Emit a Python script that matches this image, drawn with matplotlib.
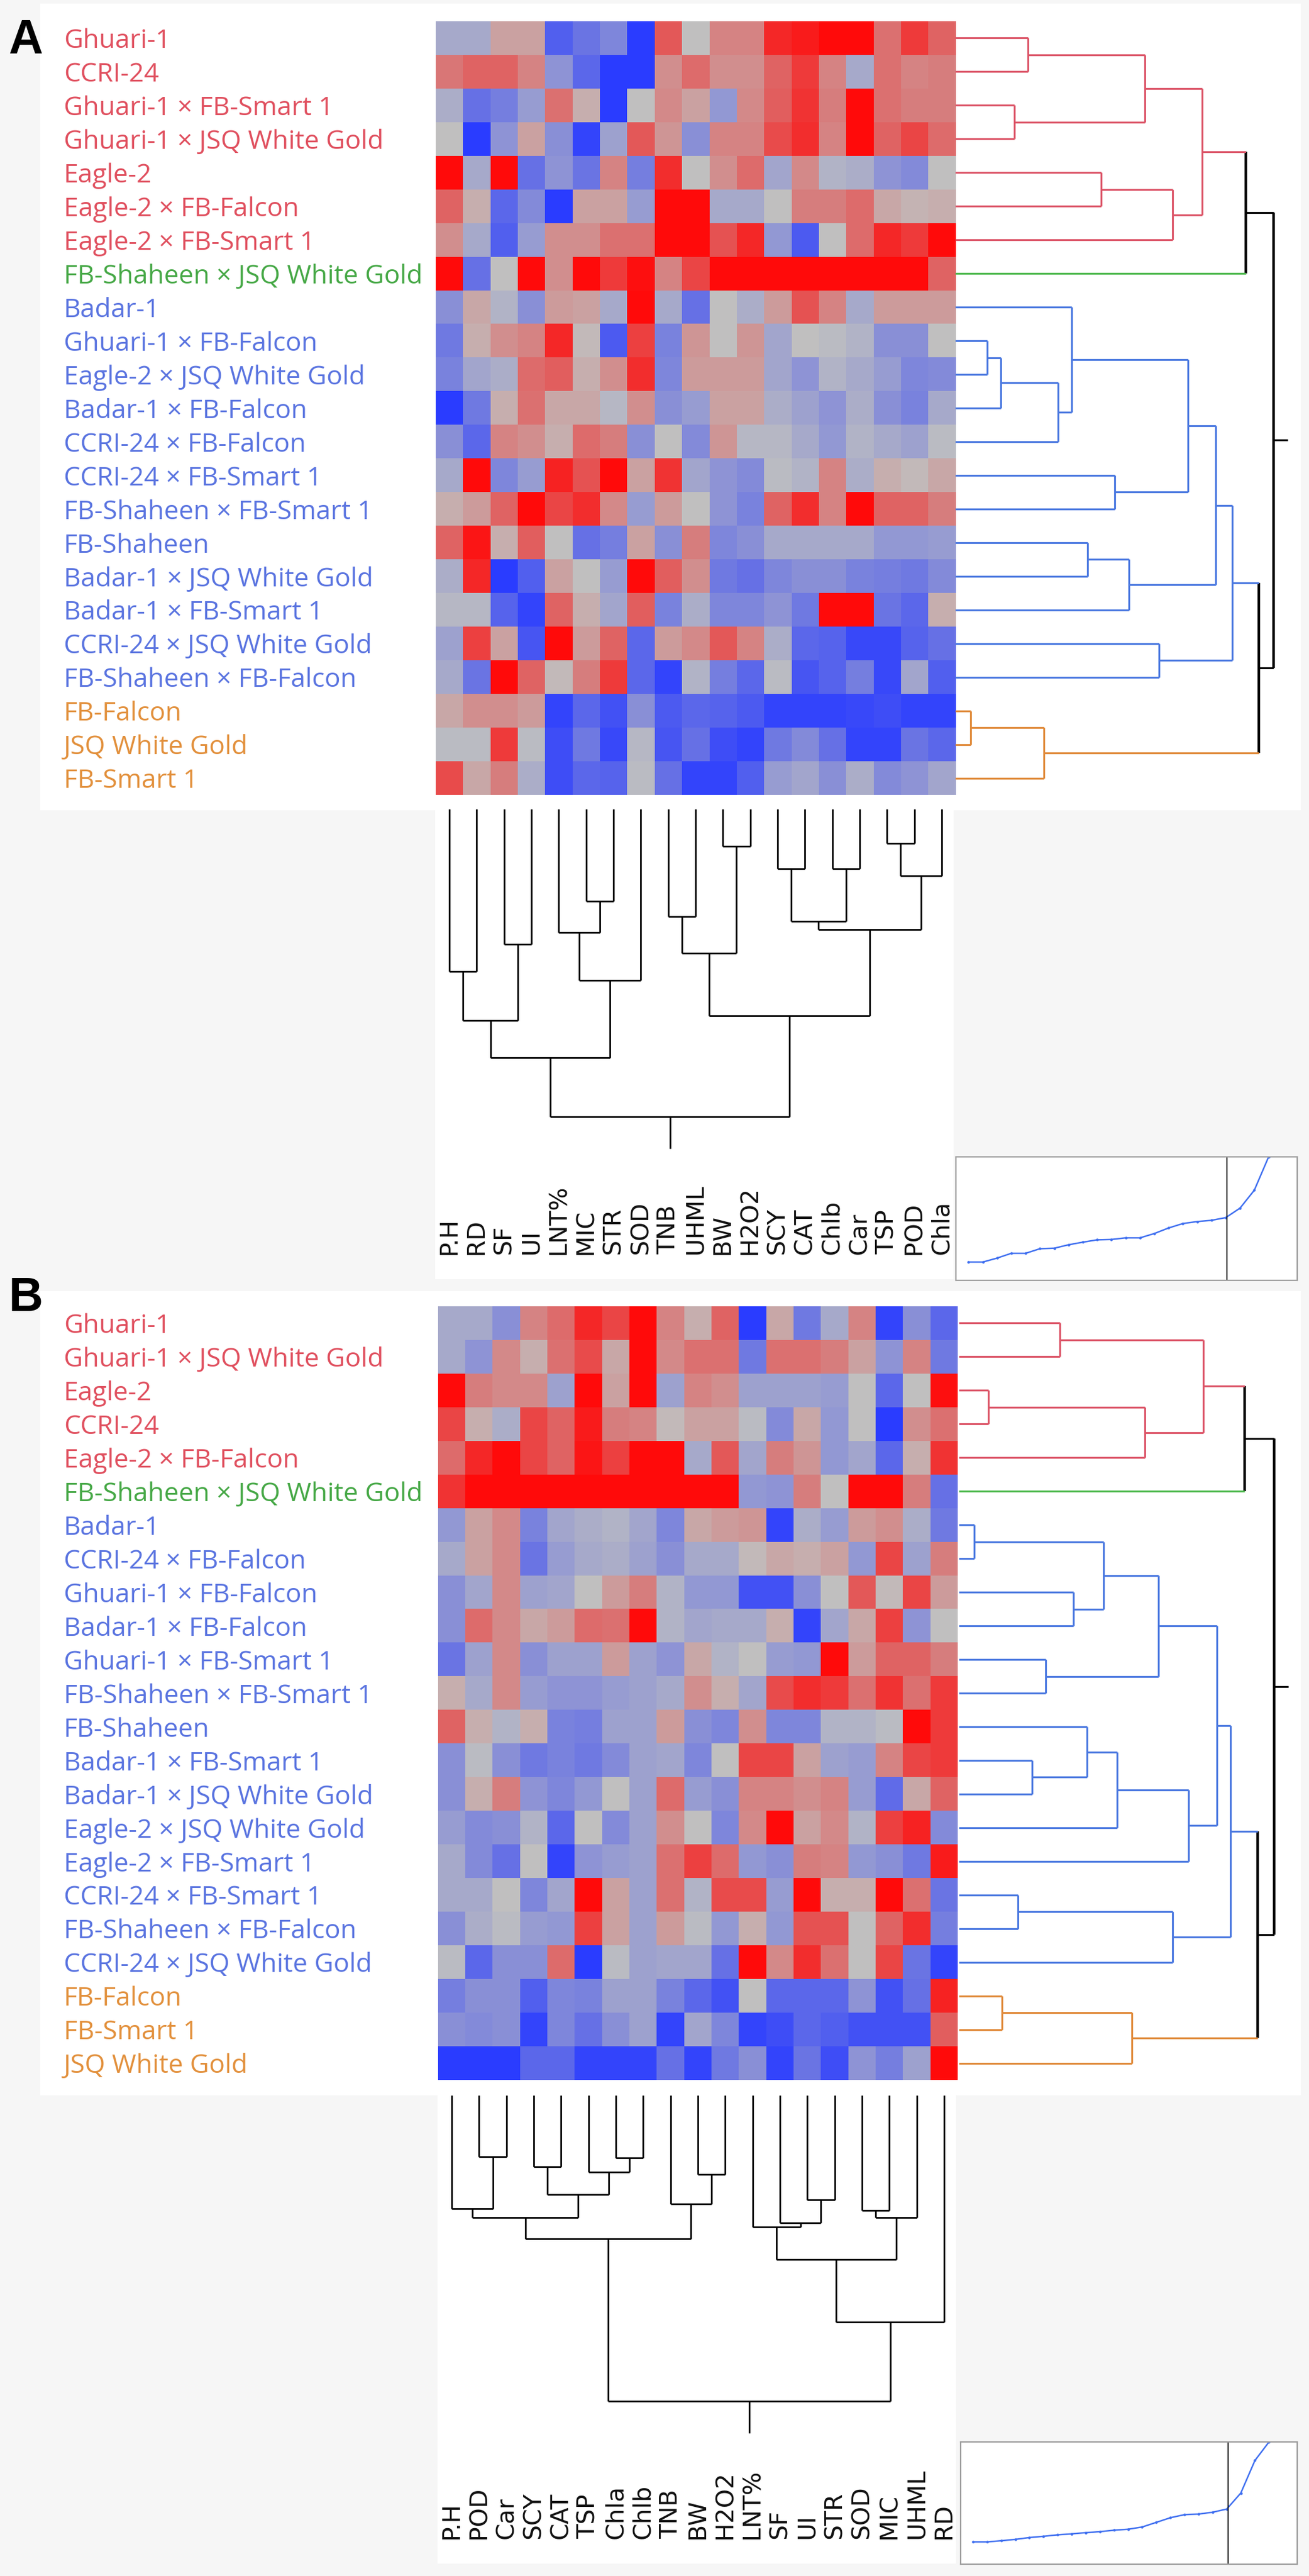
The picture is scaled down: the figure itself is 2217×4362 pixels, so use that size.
import matplotlib
matplotlib.use("Agg")
import matplotlib.pyplot as plt
from matplotlib.colors import LinearSegmentedColormap
from matplotlib.patches import Rectangle
from matplotlib import transforms

# ---------------- data ----------------
rows_a = ["Ghuari-1", "CCRI-24", "Ghuari-1 × FB-Smart 1", "Ghuari-1 × JSQ White Gold",
          "Eagle-2", "Eagle-2 × FB-Falcon", "Eagle-2 × FB-Smart 1", "FB-Shaheen × JSQ White Gold",
          "Badar-1", "Ghuari-1 × FB-Falcon", "Eagle-2 × JSQ White Gold", "Badar-1 × FB-Falcon",
          "CCRI-24 × FB-Falcon", "CCRI-24 × FB-Smart 1", "FB-Shaheen × FB-Smart 1", "FB-Shaheen",
          "Badar-1 × JSQ White Gold", "Badar-1 × FB-Smart 1", "CCRI-24 × JSQ White Gold",
          "FB-Shaheen × FB-Falcon", "FB-Falcon", "JSQ White Gold", "FB-Smart 1"]
groups_a = ["r"] * 7 + ["g"] + ["b"] * 12 + ["o"] * 3
cols_a = ["P.H", "RD", "SF", "UI", "LNT%", "MIC", "STR", "SOD", "TNB", "UHML", "BW",
          "H2O2", "SCY", "CAT", "Chlb", "Car", "TSP", "POD", "Chla"]

heat_a = [
    [-0.5, -0.5, 0.5, 0.5, -2.2, -1.7, -1.3, -3, 1.7, 0, 1, 1, 2.5, 2.7, 3, 3, 1.3, 2.2, 1.5],
    [1.2, 1.5, 1.5, 1, -1, -2, -3, -3, 0.8, 1.4, 0.8, 0.8, 1.5, 2.2, 1, -0.5, 1.3, 1, 1.1],
    [-0.4, -1.8, -1.5, -0.8, 1.3, 0.3, -3, 0, 0.9, 0.5, -0.9, 0.9, 1.6, 2.3, 1.1, 3, 1.3, 1.1, 1.1],
    [0, -3, -1, 0.5, -1.1, -2.8, -0.7, 1.7, 0.7, -1.1, 1, 1, 1.9, 2.4, 1, 3, 1.5, 2, 1.4],
    [3, -0.5, 3, -1.8, -1, -1.7, 1, -1.5, 2.4, 0, 0.8, 1.4, -0.6, 0.9, -0.3, -0.4, -1, -1.2, 0],
    [1.5, 0.3, -2, -1.2, -3, 0.5, 0.5, -0.8, 3, 3, -0.5, -0.5, 0, 1.1, 1.1, 1.4, 0.4, 0.2, 0.3],
    [0.8, -0.5, -2.2, -0.8, 0.8, 0.8, 1.3, 1.3, 3, 3, 1.8, 2.5, -0.9, -2.3, 0, 1.4, 2.5, 2.2, 3],
    [3, -1.8, 0, 3, 0.8, 3, 2.2, 2.9, 1, 2, 3, 3, 3, 3, 3, 3, 3, 3, 1.5],
    [-1.1, 0.4, -0.3, -1.1, 0.6, 0.5, -0.5, 3, -0.5, -1.8, 0, -0.4, 0.6, 1.8, 1, -0.5, 0.6, 0.6, 0.6],
    [-1.6, 0.3, 0.8, 1, 2.5, 0.1, -2.3, 2.1, -1.4, 0.7, 0, 0.7, -0.6, 0, -0.1, -0.3, -1.1, -1.1, 0],
    [-1.4, -0.6, -0.4, 1.4, 1.6, 0.3, 0.8, 2.4, -1.3, 0.6, 0.6, 0.6, -0.6, -1, -0.3, -0.5, -0.8, -1.3, -1.2],
    [-3, -1.6, 0.3, 1.3, 0.4, 0.4, -0.2, 0.8, -1.1, -0.8, 0.5, 0.5, -0.4, -0.7, -1, -0.4, -1.1, -1.4, -0.5],
    [-1.1, -2, 1, 0.8, 0.3, 1.4, 1.1, -1.1, 0, -1.2, 0.7, -0.2, -0.2, -0.5, -0.9, -0.3, -0.5, -0.7, -0.1],
    [-0.5, 3, -1.3, -0.8, 2.6, 1.8, 3, 0.5, 2.3, -0.6, -1, -1.2, -0.1, -0.3, 1, -0.4, 0.3, 0.1, 0.4],
    [0.3, 0.6, 1.5, 3, 2, 2.4, 0.9, -0.8, 0.6, 0, -1, -1.4, 1.5, 2.4, 1, 3, 1.5, 1.5, 1.1],
    [1.5, 2.8, 0.3, 1.6, 0, -1.8, -1.5, 0.5, -1.1, 1.1, -1.3, -1.1, -0.5, -0.5, -0.5, -0.5, -0.9, -0.9, -0.8],
    [-0.4, 2.5, -3, -2.2, 0.5, 0, -0.8, 3, 1.6, 0.8, -1.6, -1.8, -1.3, -1.1, -1.1, -1.4, -1.5, -1.6, -1.2],
    [-0.2, -0.2, -2.1, -2.8, 1.5, 0.3, -0.6, 1.6, -1.4, -0.4, -1.3, -1.3, -1, -1.6, 3, 3, -1.7, -2, 0.3],
    [-0.7, 2.1, 0.5, -2.4, 3, 0.6, 1.5, -2, 0.6, 0.9, 1.7, 1, -0.4, -2, -2.1, -2.7, -2.7, -2.1, -1.8],
    [-0.5, -1.7, 3, 1.5, 0.1, 1.1, 2.2, -2, -2.8, -0.3, -1.5, -2, -0.1, -2.4, -2.1, -1.5, -2.7, -0.6, -2.2],
    [0.4, 0.8, 0.8, 0.6, -2.8, -2, -2.5, -1.1, -2.3, -2, -2.1, -2.3, -2.8, -2.8, -2.8, -2.7, -2.6, -2.8, -2.8],
    [-0.1, -0.1, 2.2, -0.1, -2.6, -1.6, -2.7, -0.2, -2.4, -1.8, -2.6, -2.8, -1.6, -1.2, -1.8, -2.8, -2.8, -1.7, -2],
    [1.9, 0.4, 1.1, -0.4, -2.6, -2, -2.1, -0.1, -1.8, -2.8, -2.8, -2.2, -0.8, -0.6, -1.1, -0.4, -1.2, -1, -0.6],
]

# merges: (child, child, height); ids >= n are earlier merges
row_merges_a = [
    (20, 21, 1.06), (9, 10, 2.2), (24, 11, 3.14), (2, 3, 4.1), (0, 1, 5.04),
    (23, 22, 6.15), (25, 12, 7.11), (8, 29, 8.05), (15, 16, 9.19), (4, 5, 10.11),
    (13, 14, 11.06), (31, 17, 12.03), (27, 26, 13.14), (18, 19, 14.11), (32, 6, 15.07),
    (30, 33, 16.13), (35, 37, 17.12), (38, 34, 18.05), (40, 36, 19.19), (39, 7, 20.13),
    (41, 28, 21.06), (42, 43, 22.07),
]
col_merges_a = [
    (16, 17, 0.111), (10, 11, 0.121), (12, 13, 0.194), (14, 15, 0.194), (19, 18, 0.218),
    (5, 6, 0.299), (8, 9, 0.350), (21, 22, 0.365), (26, 23, 0.392), (4, 24, 0.402),
    (2, 3, 0.440), (25, 20, 0.469), (0, 1, 0.528), (28, 7, 0.558), (30, 27, 0.673),
    (31, 29, 0.688), (34, 32, 0.809), (35, 33, 1.0),
]
dist_a = [0.148, 0.148, 0.180, 0.219, 0.219, 0.256, 0.260, 0.288, 0.309, 0.328, 0.331,
          0.344, 0.344, 0.379, 0.424, 0.460, 0.476, 0.486, 0.508, 0.585, 0.730, 1.0]

rows_b = ["Ghuari-1", "Ghuari-1 × JSQ White Gold", "Eagle-2", "CCRI-24", "Eagle-2 × FB-Falcon",
          "FB-Shaheen × JSQ White Gold", "Badar-1", "CCRI-24 × FB-Falcon", "Ghuari-1 × FB-Falcon",
          "Badar-1 × FB-Falcon", "Ghuari-1 × FB-Smart 1", "FB-Shaheen × FB-Smart 1", "FB-Shaheen",
          "Badar-1 × FB-Smart 1", "Badar-1 × JSQ White Gold", "Eagle-2 × JSQ White Gold",
          "Eagle-2 × FB-Smart 1", "CCRI-24 × FB-Smart 1", "FB-Shaheen × FB-Falcon",
          "CCRI-24 × JSQ White Gold", "FB-Falcon", "FB-Smart 1", "JSQ White Gold"]
groups_b = ["r"] * 5 + ["g"] + ["b"] * 14 + ["o"] * 3
cols_b = ["P.H", "POD", "Car", "SCY", "CAT", "TSP", "Chla", "Chlb", "TNB", "BW", "H2O2",
          "LNT%", "SF", "UI", "STR", "SOD", "MIC", "UHML", "RD"]

heat_b = [
    [-0.5, -0.5, -1.1, 1, 1.4, 2.5, 2, 3, 1, 0.3, 1.5, -3, 0.4, -1.6, -0.5, 1, -2.8, -1.1, -2],
    [-0.5, -1, 0.9, 0.3, 1.3, 1.9, 0.4, 3, 0.9, 1.3, 1.3, -1.6, 1.3, 1.3, 1.1, 0.5, -1, 1, -1.6],
    [3, 1.1, 0.9, 0.9, -0.7, 3, 0.5, 3, -0.7, 1, 0.8, -0.7, -0.7, -0.7, -0.8, 0, -2, 0, 2.9],
    [2, 0.3, -0.4, 2, 1.5, 2.7, 1.1, 1, 0.1, 0.5, 0.5, -0.1, -1.2, 0.4, -0.9, 0, -3, 0.8, 1.3],
    [1.4, 2.5, 3, 2, 1.5, 2.8, 2.1, 3, 3, -0.5, 1.7, -0.6, 1.1, 0.7, -0.9, -0.6, -2, 0.3, 2.3],
    [2.3, 3, 3, 3, 3, 3, 3, 3, 3, 3, 3, -0.9, -1, 1.1, 0, 3, 3, 1.1, -1.8],
    [-0.9, 0.5, 0.9, -1.4, -0.6, -0.4, -0.3, -0.6, -1.3, 0.4, 0.6, 0.7, -2.8, -0.4, -0.8, 0.6, 0.8, -0.4, -1.6],
    [-0.5, 0.5, 0.9, -1.7, -0.8, -0.5, -0.4, -0.7, -1.1, -0.5, -0.5, 0.1, 0.4, 0.3, 0.5, -0.9, 2, -0.7, 1.1],
    [-1.1, -0.6, 0.9, -0.7, -0.6, 0, 0.6, 1.1, -0.3, -0.9, -0.9, -2.5, -2.5, -1.1, 0, 1.7, 0.1, 2, 0.6],
    [-1.1, 1.4, 0.9, 0.4, 0.6, 1.4, 1.3, 3, -0.3, -0.6, -0.5, -0.5, 0.3, -2.8, -0.6, 0.4, 2.1, -1, 0],
    [-1.7, -0.7, 0.9, -1.1, -0.7, -0.7, 0.6, -0.7, -1, 0.4, -0.3, 0, -0.8, -0.9, 3, 0.6, 1.5, 1.5, 1.1],
    [0.3, -0.5, 0.9, -0.8, -1, -1, -0.8, -0.7, -0.5, 0.8, 0.3, -0.6, 1.9, 2.4, 2.2, 1.3, 2.3, 1.3, 2.2],
    [1.5, 0.3, -0.3, 0.3, -1.4, -1.5, -0.7, -0.7, 0.6, -1.1, -1.3, 0.8, -1.3, -1.3, -0.3, -0.3, -0.1, 3, 2.2],
    [-1.1, -0.1, -1.1, -1.6, -1.4, -1.6, -1.2, -0.7, -0.6, -1.3, 0, 2, 2, 0.5, -0.7, -0.8, 1, 2, 2.2],
    [-1.1, 0.3, 1.1, -1, -1.3, -0.9, 0, -0.7, 1.4, -0.8, -1.1, 1, 1, 0.8, 1, -0.8, -1.9, 0.4, 1.5],
    [-0.8, -1.2, -1.1, -0.3, -2, 0, -1.2, -0.7, 0.8, 0, -1.3, 0.9, 3, 0.5, 0.9, -0.3, 2.1, 2.6, -1.2],
    [-0.5, -1.2, -1.8, 0, -2.8, -1, -0.8, -0.7, 1.3, 2.1, 1.4, -0.9, -1.1, 1.1, 1, -0.9, -1.1, -1.6, 2.7],
    [-0.5, -0.5, 0, -1.3, -0.6, 3, 0.5, -0.7, 1.3, -0.3, 1.9, 1.9, -0.8, 3, 0.3, 0.3, 3, 1.3, -1.7],
    [-1.1, -0.4, -0.1, -0.8, -0.9, 2.1, 0.5, -0.7, 0.6, -0.1, -0.9, 0.3, -0.9, 1.8, 1.8, 0, 1.5, 2.4, -1.5],
    [-0.1, -2, -1.1, -1.1, 1.4, -3, -0.1, -0.7, -0.6, -0.6, -1.8, 3, 0.9, 2.4, 1.3, 0, 2, -1.7, -2.8],
    [-1.5, -1.1, -1.1, -2.2, -1.3, -1.4, -0.7, -0.7, -1.4, -2, -2.5, 0, -2, -2, -2, -1, -2.5, -1.8, 2.6],
    [-1.1, -1.2, -1.1, -2.8, -1.3, -1.8, -1.1, -0.7, -2.8, -0.6, -1.3, -2.8, -2.6, -2, -2.2, -2.5, -2.5, -2.5, 1.6],
    [-3, -3, -3, -2, -2, -2.8, -2.8, -2.8, -1.8, -2.8, -1.6, -1.1, -2.8, -1.7, -2.6, -1, -1.5, -0.7, 3],
]

row_merges_b = [
    (6, 7, 1.07), (2, 3, 2.07), (20, 21, 3.0), (17, 18, 4.12), (13, 14, 5.14),
    (10, 11, 6.07), (0, 1, 7.08), (8, 9, 8.01), (12, 27, 8.97), (23, 30, 10.1),
    (31, 15, 11.08), (25, 22, 12.12), (24, 4, 13.02), (32, 28, 13.97), (26, 19, 14.96),
    (33, 16, 16.06), (29, 35, 17.09), (36, 38, 18.03), (40, 37, 18.98), (39, 5, 19.97),
    (41, 34, 20.9), (42, 43, 22.05),
]
col_merges_b = [
    (1, 2, 0.200), (6, 7, 0.205), (3, 4, 0.233), (5, 20, 0.251), (9, 10, 0.258),
    (21, 22, 0.324), (13, 14, 0.341), (8, 23, 0.356), (0, 19, 0.371), (15, 16, 0.377),
    (27, 24, 0.400), (28, 17, 0.400), (12, 25, 0.418), (11, 31, 0.430), (29, 26, 0.469),
    (32, 30, 0.536), (34, 18, 0.742), (33, 35, 1.0),
]
dist_b = [0.182, 0.182, 0.192, 0.203, 0.218, 0.228, 0.240, 0.248, 0.258, 0.266, 0.278,
          0.286, 0.304, 0.342, 0.380, 0.405, 0.410, 0.425, 0.451, 0.582, 0.848, 1.0]

# ---------------- style ----------------
W, H = 2217, 4362
BG = "#f6f6f6"
line_cols = {"r": "#dc5568", "g": "#4cb84c", "b": "#4a78e0", "o": "#e08a3a", None: "black"}
text_cols = {"r": "#e0505f", "g": "#46a846", "b": "#5a74e0", "o": "#e2903c"}
cmap = LinearSegmentedColormap.from_list("jmp", ["#2a3cff", "#c0c0c0", "#ff0a0a"])

fig = plt.figure(figsize=(W / 100, H / 100), dpi=100, facecolor=BG)


def px_axes(x0, y0, x1, y1):
    return fig.add_axes([x0 / W, 1 - y1 / H, (x1 - x0) / W, (y1 - y0) / H])


def white_box(x0, y0, x1, y1):
    fig.add_artist(Rectangle((x0 / W, 1 - y1 / H), (x1 - x0) / W, (y1 - y0) / H,
                             transform=fig.transFigure, facecolor="white",
                             edgecolor="none", zorder=-5))


def bare(ax):
    ax.set_xticks([])
    ax.set_yticks([])
    for s in ax.spines.values():
        s.set_visible(False)
    ax.patch.set_alpha(0)


def tree(merges, n, groups=None):
    pos = {i: i + 0.5 for i in range(n)}
    hgt = {i: 0.0 for i in range(n)}
    grp = {i: (groups[i] if groups else None) for i in range(n)}
    links = []
    for k, (a, b, h) in enumerate(merges):
        node = n + k
        pos[node] = (pos[a] + pos[b]) / 2
        hgt[node] = h
        grp[node] = grp[a] if grp[a] == grp[b] else None
        links.append((a, b, node))
    return pos, hgt, grp, links


def draw_tree(ax, merges, n, groups, stem, vertical, lw):
    pos, hgt, grp, links = tree(merges, n, groups)
    for a, b, node in links:
        c = line_cols[grp[node]]
        seg = ([hgt[node], hgt[node]], [pos[a], pos[b]])
        w = lw * 1.4 if (groups and grp[node] is None) else lw
        ax.plot(*(seg if vertical else seg[::-1]), color=c, lw=w, solid_capstyle="butt")
        for ch in (a, b):
            seg = ([hgt[ch], hgt[node]], [pos[ch], pos[ch]])
            ax.plot(*(seg if vertical else seg[::-1]), color=line_cols[grp[ch]], lw=lw,
                    solid_capstyle="butt")
    root = links[-1][2]
    seg = ([hgt[root], stem], [pos[root], pos[root]])
    ax.plot(*(seg if vertical else seg[::-1]), color="black", lw=lw, solid_capstyle="butt")


def panel(letter, letter_y, box_top, heat_box, rows, groups, cols, heat, row_merges,
          row_box, col_merges, col_box, label_y, inset_box, dist):
    hx0, hy0, hx1, hy1 = heat_box
    white_box(68, box_top, 2203, hy1 + 26)
    white_box(hx0 - 1, hy1, hx1 - 3, label_y + 42)
    fig.text(15 / W, 1 - letter_y / H, letter, fontsize=58, fontweight="bold",
             family=["Liberation Sans", "DejaVu Sans"], va="baseline", ha="left")

    ax = px_axes(hx0, hy0, hx1, hy1)
    ax.imshow(heat, cmap=cmap, vmin=-3, vmax=3, aspect="auto", interpolation="nearest",
              extent=(0, len(cols), len(rows), 0))
    bare(ax)

    # row labels
    tr = transforms.blended_transform_factory(fig.transFigure, ax.transData)
    for i, (name, g) in enumerate(zip(rows, groups)):
        ax.text(108 / W, i + 0.5, name, transform=tr, color=text_cols[g], fontsize=32,
                family=["Open Sans", "DejaVu Sans"], va="center_baseline", ha="left")

    # column labels
    tc = transforms.blended_transform_factory(ax.transData, fig.transFigure)
    for j, name in enumerate(cols):
        ax.text(j + 0.5, 1 - label_y / H, name, transform=tc, rotation=90, fontsize=29.5,
                family="DejaVu Sans", ha="center", va="bottom", color="#111111")

    # row dendrogram
    rx0, rx1 = row_box
    axr = px_axes(rx0, hy0, rx1, hy1)
    draw_tree(axr, row_merges, len(rows), groups, row_merges[-1][2] + 1.0, True, 2.3)
    axr.set_xlim(0, 23.5)
    axr.set_ylim(len(rows), 0)
    bare(axr)

    # column dendrogram
    cy0, cy1 = col_box
    axc = px_axes(hx0, cy0, hx1, cy1)
    draw_tree(axc, col_merges, len(cols), None, 1.105, False, 2.0)
    axc.set_xlim(0, len(cols))
    axc.set_ylim(1.12, 0)
    bare(axc)

    # joining distance inset
    ix0, iy0, ix1, iy1 = inset_box
    axi = px_axes(ix0, iy0, ix1, iy1)
    steps = list(range(1, len(dist) + 1))
    axi.plot(steps, dist, color="#3f6ff0", lw=1.8, marker="o", markersize=2.2)
    axi.axvline(19.1, color="black", lw=1.3)
    axi.set_xlim(0.12, 24.0)
    axi.set_ylim(0, 1.0)
    axi.set_xticks([])
    axi.set_yticks([])
    axi.set_facecolor("white")
    for s in axi.spines.values():
        s.set_color("#9a9a9a")
        s.set_linewidth(1.6)


panel("A", 89, 6, (738, 36, 1618, 1346), rows_a, groups_a, cols_a, heat_a, row_merges_a,
      (1618, 2192), col_merges_a, (1370, 1953), 2124, (1619, 1959, 2197, 2168), dist_a)
panel("B", 2220, 2186, (742, 2212, 1622, 3522), rows_b, groups_b, cols_b, heat_b, row_merges_b,
      (1624, 2193), col_merges_b, (3548, 4128), 4299, (1627, 4135, 2197, 4342), dist_b)

fig.savefig("out.png", dpi=100, facecolor=BG)
